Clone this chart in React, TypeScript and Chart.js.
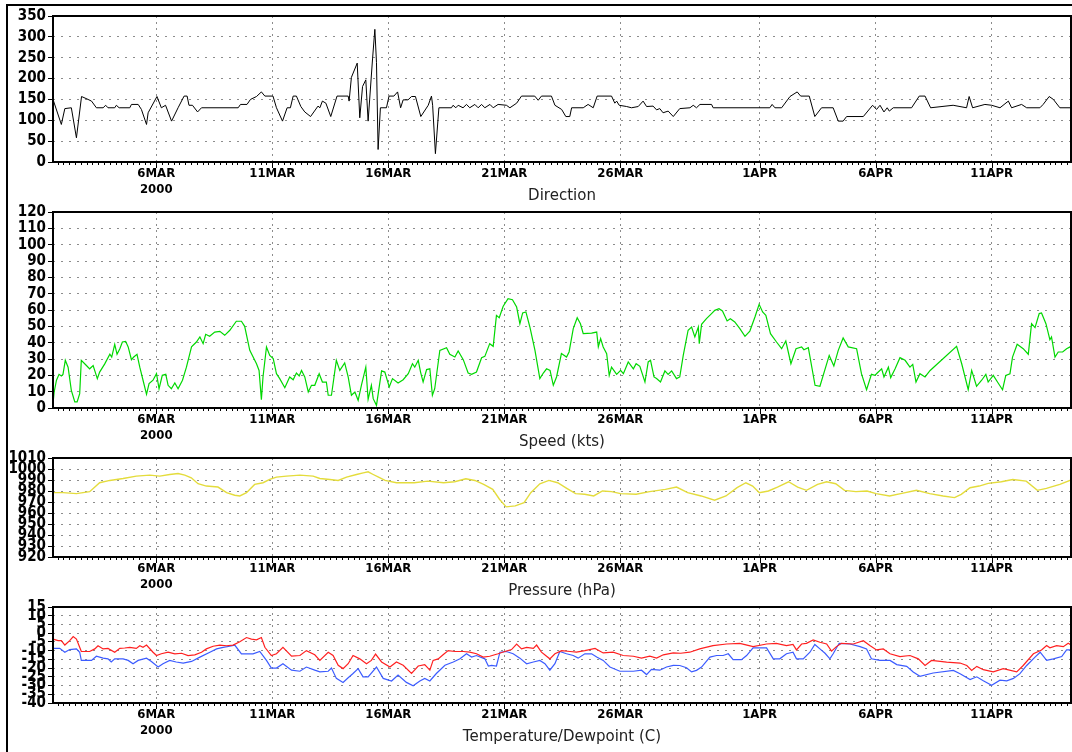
import React, { useEffect, useRef } from 'react';
import { Chart, registerables } from 'chart.js';

Chart.register(...registerables);

// ---- axis data ----
const tickDays = [5, 10, 15, 20, 25, 31, 36, 41];
const tickLabels = ['6MAR', '11MAR', '16MAR', '21MAR', '26MAR', '1APR', '6APR', '11APR'];
const yearLabel = '2000';
const dayMin = 0.55;
const dayMax = 44.42;

// ---- series: [day since 1 Mar 00Z, value] ----
const directionSeries: number[][] = [
  [0.55,150],[0.91,90],[1.06,128],[1.34,130],[1.56,58],[1.78,157],[2.06,150],[2.21,146],[2.42,130],[2.71,130],
  [2.82,136],[2.92,130],[3.21,130],[3.28,136],[3.40,130],[3.86,130],[3.93,138],[4.22,138],[4.36,126],[4.58,90],
  [4.65,118],[5.03,157],[5.22,130],[5.40,136],[5.66,98],[5.94,130],[6.20,158],[6.33,158],[6.41,136],[6.56,136],
  [6.78,120],[6.95,130],[8.53,130],[8.63,138],[8.91,138],[9.06,150],[9.32,157],[9.53,168],[9.68,158],[10.03,158],
  [10.18,130],[10.44,98],[10.64,130],[10.78,130],[10.90,158],[11.04,158],[11.23,133],[11.40,120],[11.65,109],[11.97,134],
  [12.05,130],[12.16,146],[12.31,141],[12.52,109],[12.79,158],[13.27,158],[13.31,146],[13.41,203],[13.66,237],[13.77,106],
  [13.89,181],[14.03,197],[14.13,98],[14.32,247],[14.42,318],[14.49,239],[14.56,30],[14.66,130],[14.92,130],[15.03,158],
  [15.24,158],[15.40,168],[15.53,130],[15.64,149],[15.85,149],[16.00,157],[16.17,157],[16.40,109],[16.72,136],[16.86,158],
  [16.91,136],[17.03,20],[17.18,130],[17.72,130],[17.79,136],[17.91,130],[18.01,136],[18.22,130],[18.37,138],[18.51,130],
  [18.73,138],[18.87,130],[19.02,138],[19.16,130],[19.38,138],[19.52,130],[19.73,138],[20.09,136],[20.24,130],[20.53,141],
  [20.74,158],[21.31,158],[21.46,148],[21.60,158],[22.03,158],[22.18,136],[22.47,126],[22.65,109],[22.82,109],[22.90,130],
  [23.40,130],[23.61,138],[23.83,130],[24.00,158],[24.62,158],[24.76,141],[24.84,146],[24.95,136],[25.27,133],[25.48,130],
  [25.77,133],[25.98,146],[26.13,133],[26.41,134],[26.56,125],[26.70,128],[26.84,118],[27.06,122],[27.28,109],[27.56,128],
  [28.00,130],[28.14,136],[28.28,130],[28.43,138],[28.93,138],[29.00,130],[31.44,130],[31.54,138],[31.66,130],[31.95,130],
  [32.31,157],[32.62,168],[32.77,158],[33.14,158],[33.38,109],[33.67,130],[34.17,130],[34.39,98],[34.60,98],[34.75,109],
  [35.47,109],[35.87,136],[36.04,126],[36.19,136],[36.36,120],[36.50,130],[36.59,122],[36.76,130],[37.55,130],[37.88,158],
  [38.13,158],[38.37,130],[39.34,136],[39.92,130],[40.03,157],[40.18,130],[40.71,138],[41.00,136],[41.36,130],[41.72,146],
  [41.86,130],[42.29,138],[42.51,130],[43.08,130],[43.22,138],[43.48,157],[43.66,150],[43.94,130],[44.45,130]
];

const speedSeries: number[][] = [
  [0.55,2.7],[0.60,9.8],[0.70,17],[0.81,20.6],[0.91,19.6],[0.98,20.6],[1.08,29.2],[1.20,25],[1.34,10.8],[1.49,3.7],
  [1.59,3.7],[1.70,8.8],[1.77,29.2],[1.99,26],[2.13,24],[2.28,26],[2.46,18],[2.56,22],[2.78,27],[3.00,32.9],
  [3.08,31.2],[3.21,39],[3.31,32.9],[3.43,36.3],[3.54,40.4],[3.68,40.8],[3.79,37.4],[3.93,29.6],[4.03,31.2],[4.17,32.9],
  [4.29,25],[4.43,17],[4.58,8.4],[4.69,14.9],[4.86,17],[5.01,21],[5.12,11.8],[5.26,20],[5.41,20.6],[5.51,13.9],
  [5.65,11.8],[5.80,15.3],[5.94,11.8],[6.13,17],[6.30,25],[6.52,37.4],[6.73,40.4],[6.88,43.5],[7.02,39.4],[7.13,45.1],
  [7.30,43.9],[7.52,46.5],[7.74,46.9],[7.95,44.5],[8.17,47.6],[8.45,53.1],[8.67,53.1],[8.81,50],[9.03,35.3],[9.32,27.1],
  [9.43,23],[9.53,5.1],[9.60,19],[9.75,37.4],[9.89,32.2],[10.04,30.2],[10.18,21],[10.32,18],[10.54,12.4],[10.75,19],
  [10.90,17.3],[11.04,21.4],[11.16,19.6],[11.26,23],[11.40,19],[11.55,9.8],[11.69,13.9],[11.83,13.9],[12.02,21],[12.16,15.9],
  [12.33,15.9],[12.41,7.8],[12.55,7.8],[12.76,29.2],[12.91,23],[13.12,27.6],[13.27,19],[13.41,7.8],[13.56,9.8],[13.70,4.7],
  [13.84,13.9],[14.03,25],[14.13,5.3],[14.27,13.9],[14.35,5.7],[14.49,1.6],[14.71,22.7],[14.85,22],[15.04,12.9],[15.18,18],
  [15.42,15.3],[15.64,17.3],[15.86,21],[16.04,27.1],[16.14,25],[16.29,29.2],[16.39,22],[16.50,15.9],[16.65,23.5],[16.79,24],
  [16.90,7.8],[17.00,11.8],[17.22,35.3],[17.51,36.9],[17.65,32.9],[17.87,31.2],[18.01,34.9],[18.23,29.6],[18.44,21.4],[18.59,20.6],
  [18.80,22],[19.02,30.8],[19.16,31.6],[19.37,39.4],[19.52,37.8],[19.66,56.7],[19.78,55.3],[19.95,62.3],[20.16,66.9],[20.35,66.3],
  [20.53,61.8],[20.67,51.6],[20.79,58.2],[20.93,58.8],[21.10,49.6],[21.32,35.3],[21.53,18],[21.68,21.4],[21.82,24],[21.97,23],
  [22.11,13.9],[22.25,19],[22.46,33.3],[22.68,31.2],[22.79,34.3],[22.97,48.6],[23.14,55.3],[23.28,51.6],[23.40,45.5],[23.76,45.9],
  [23.98,46.5],[24.05,37.4],[24.15,42.5],[24.26,37.4],[24.41,33.3],[24.52,20],[24.62,25],[24.84,20.6],[25.01,23],[25.13,21],
  [25.34,28.2],[25.56,24],[25.68,27.1],[25.84,25.5],[26.06,15.9],[26.20,28.2],[26.30,29.2],[26.45,19],[26.56,18],[26.73,15.9],
  [26.92,22.7],[27.06,20.6],[27.21,22.7],[27.42,18],[27.56,19],[27.71,32.2],[27.92,47.6],[28.07,49.6],[28.21,43.5],[28.36,49.6],
  [28.40,39.4],[28.50,51.2],[28.71,54.7],[28.93,57.8],[29.07,59.8],[29.25,60.8],[29.40,59.4],[29.60,53.3],[29.74,54.7],[29.93,52.7],
  [30.15,48.6],[30.37,43.9],[30.58,47.1],[30.80,55.7],[30.98,63.5],[31.13,58.8],[31.27,56.7],[31.47,45.5],[31.73,40.4],[31.95,36.3],
  [32.13,41],[32.35,27.1],[32.57,36.3],[32.81,37.4],[32.91,35.7],[33.10,36.9],[33.39,13.9],[33.60,13.3],[34.00,32.2],[34.20,25.7],
  [34.39,35.3],[34.60,42.9],[34.82,37.4],[35.18,36.3],[35.39,21],[35.61,11.2],[35.82,20.6],[35.97,20],[36.07,21.4],[36.26,24],
  [36.36,19],[36.55,25],[36.65,18.6],[36.84,24],[37.05,30.8],[37.27,29.2],[37.48,25],[37.60,26.7],[37.74,15.9],[37.91,21],
  [38.13,19],[38.35,23],[39.49,37.8],[39.71,27.1],[39.99,11.2],[40.14,23],[40.35,13.3],[40.57,17],[40.75,20.6],[40.85,15.9],
  [41.07,20],[41.28,15.3],[41.47,11.2],[41.61,20],[41.79,21],[41.90,31.2],[42.10,39],[42.36,36.3],[42.58,32.9],[42.72,51.6],
  [42.87,49.2],[43.05,57.8],[43.15,58.2],[43.34,51.6],[43.51,41.8],[43.58,43.5],[43.73,31.2],[43.87,34.3],[44.06,34.3],[44.23,36.3],
  [44.38,37.4],[44.46,37.8]
];

const pressureSeries: number[][] = [
  [0.55,978.5],[0.98,978.5],[1.56,977.6],[2.13,979.4],[2.56,987.5],[3.00,989.6],[3.57,991.4],[4.14,993.5],[4.72,994.4],[5.15,993.5],
  [5.58,995],[5.94,995.9],[6.23,994.4],[6.51,992],[6.80,986.6],[7.16,984.5],[7.66,983.6],[8.03,978.5],[8.38,976.1],[8.60,975.5],
  [8.89,978.5],[9.24,986],[9.60,987.5],[9.89,990.5],[10.18,992.6],[10.61,993.5],[11.19,994.4],[11.76,993.5],[12.05,991.4],[12.48,990.5],
  [12.84,989.6],[13.20,992.6],[13.63,995],[13.92,996.5],[14.13,997.4],[14.35,995],[14.58,992.6],[14.86,989.6],[15.35,987.5],[16.12,987.5],
  [16.70,989],[17.38,987.5],[17.86,988.4],[18.34,991.1],[18.73,989.6],[19.11,986],[19.50,981.5],[19.79,972.5],[20.08,965.6],[20.47,966.5],
  [20.85,969.5],[21.14,978.5],[21.53,986.6],[21.92,989.6],[22.30,987.5],[22.69,982.4],[23.07,977.6],[23.46,977],[23.85,975.5],[24.23,980],
  [24.62,979.4],[25.01,977.6],[25.68,977],[26.26,979.4],[26.94,981.5],[27.42,983.6],[27.90,978.5],[28.48,975.5],[29.06,971.6],[29.55,975.5],
  [30.03,983],[30.41,987.5],[30.70,984.5],[30.99,978.5],[31.38,980],[31.77,983.6],[32.25,988.4],[32.64,983.6],[33.02,980.6],[33.50,986],
  [33.89,988.4],[34.28,986.6],[34.66,980.6],[35.15,979.4],[35.63,980],[36.02,977.6],[36.60,975.5],[37.08,977.6],[37.76,980.6],[38.33,977.6],
  [38.91,975.5],[39.40,974],[39.69,977],[40.07,983],[40.46,984.5],[40.85,986.9],[41.42,988.4],[41.91,990.5],[42.49,989],[42.97,980.6],
  [43.36,982.4],[43.94,986],[44.48,990.5]
];

const temperatureSeries: number[][] = [
  [0.55,-3.4],[0.77,-4.3],[0.91,-4.3],[1.06,-6.8],[1.27,-4.3],[1.42,-1.9],[1.56,-3.4],[1.70,-8.1],[1.77,-10.5],[2.13,-10.5],
  [2.35,-9],[2.49,-7.2],[2.71,-9],[2.92,-8.7],[3.21,-10.9],[3.43,-8.7],[3.64,-8.5],[3.86,-8.1],[4.14,-8.7],[4.29,-7.2],
  [4.43,-8.1],[4.58,-6.8],[4.86,-10.9],[5.01,-12.8],[5.22,-11.8],[5.51,-10.9],[5.80,-11.8],[6.09,-11.5],[6.37,-12.8],[6.66,-12.4],
  [6.95,-10.9],[7.16,-9],[7.45,-7.5],[7.74,-6.8],[8.03,-7.2],[8.31,-6.8],[8.60,-4.9],[8.89,-2.5],[9.10,-3.4],[9.32,-3.8],
  [9.53,-2.5],[9.68,-8.1],[9.96,-12.8],[10.18,-11.8],[10.46,-8.1],[10.83,-13.2],[11.19,-12.8],[11.47,-10],[11.83,-12.4],[12.05,-15.6],
  [12.41,-10.9],[12.62,-12.8],[12.84,-18.4],[13.05,-20.3],[13.27,-17.5],[13.48,-12.8],[13.77,-14.7],[14.06,-17.5],[14.27,-15.6],[14.45,-12],
  [14.71,-16.5],[15.07,-19.4],[15.35,-16.5],[15.64,-18.4],[16.00,-23.1],[16.29,-18.8],[16.57,-18],[16.79,-21.2],[16.93,-15.6],[17.15,-14.7],
  [17.36,-12.4],[17.58,-10],[17.87,-10.5],[18.23,-10.5],[18.51,-10.9],[18.80,-11.8],[19.09,-13.7],[19.37,-13.2],[19.73,-11.8],[20.02,-10.5],
  [20.31,-9.4],[20.53,-6.2],[20.74,-9],[20.96,-8.1],[21.25,-8.7],[21.39,-6.8],[21.60,-10.9],[21.96,-14.7],[22.18,-11.8],[22.47,-10],
  [22.83,-10.5],[23.11,-10.9],[23.47,-10],[23.91,-8.7],[24.26,-11.3],[24.69,-10.9],[25.12,-12.8],[25.56,-13.2],[25.91,-14.3],[26.27,-13.2],
  [26.56,-14.3],[26.85,-12.4],[27.28,-11.3],[27.60,-11.5],[27.99,-10.9],[28.42,-9],[28.99,-7.1],[29.58,-6.2],[30.15,-5.8],[30.72,-7.7],
  [31.30,-6.2],[31.72,-5.8],[32.16,-7.1],[32.44,-6.5],[32.59,-9.6],[32.81,-6.2],[33.02,-5.8],[33.31,-3.9],[33.60,-5.2],[33.89,-6.2],
  [34.10,-10.3],[34.31,-7.7],[34.53,-5.8],[35.04,-6.2],[35.47,-4.3],[35.75,-7.1],[36.04,-9.6],[36.33,-9],[36.62,-11.8],[37.05,-13.4],
  [37.48,-12.8],[37.84,-14.7],[38.13,-18.5],[38.41,-15.6],[39.06,-16.6],[39.64,-17.1],[39.93,-18.5],[40.14,-21.3],[40.36,-19],[40.64,-20.9],
  [41.07,-22.2],[41.50,-20.3],[42.08,-22.2],[42.36,-18.5],[42.80,-11.8],[43.15,-9.6],[43.37,-7.1],[43.51,-8.4],[43.80,-7.1],[44.09,-7.7],
  [44.30,-5.8],[44.46,-7.1]
];

const dewpointSeries: number[][] = [
  [0.55,-8.7],[0.84,-8.7],[1.06,-10.9],[1.27,-9.4],[1.56,-9],[1.70,-10.9],[1.77,-15.6],[2.21,-15.6],[2.42,-13.2],[2.71,-14.3],
  [2.92,-14.7],[3.06,-16.5],[3.21,-14.7],[3.57,-14.7],[3.79,-15.6],[4.00,-17.5],[4.22,-15.6],[4.58,-14.3],[4.79,-16.2],[5.08,-19.4],
  [5.29,-17.5],[5.58,-15.6],[5.86,-16.5],[6.16,-17.1],[6.52,-16.2],[6.88,-13.7],[7.31,-10.9],[7.60,-9],[7.88,-8.1],[8.17,-7.5],
  [8.38,-6.8],[8.67,-11.8],[9.17,-11.8],[9.46,-10.5],[9.75,-15.6],[9.96,-20],[10.18,-20],[10.46,-17.5],[10.83,-21.2],[11.19,-21.8],
  [11.47,-19.4],[11.83,-21.2],[12.05,-22.2],[12.41,-21.8],[12.55,-20],[12.76,-25.9],[13.05,-28.2],[13.27,-25.5],[13.48,-23.1],[13.70,-20.3],
  [13.91,-25],[14.13,-25],[14.49,-19.4],[14.78,-25.9],[15.14,-27.4],[15.42,-24],[15.78,-28.2],[16.07,-30.1],[16.36,-27.4],[16.57,-25.9],
  [16.79,-27.4],[17.07,-23.1],[17.44,-18.4],[17.80,-16.5],[18.09,-14.7],[18.37,-11.8],[18.59,-13.7],[18.80,-12.8],[19.16,-14.7],[19.31,-18.8],
  [19.45,-18.4],[19.66,-18.8],[19.81,-10.9],[20.09,-10.5],[20.38,-11.8],[20.67,-14.3],[20.96,-17.5],[21.25,-16.5],[21.53,-15.6],[21.75,-17.5],
  [21.96,-21.2],[22.18,-17.5],[22.39,-10.5],[22.68,-11.8],[22.97,-12.8],[23.18,-14.3],[23.47,-11.8],[23.76,-11.8],[23.98,-13.7],[24.26,-15.6],
  [24.55,-19.4],[24.98,-21.8],[25.56,-21.8],[25.91,-21.2],[26.13,-23.7],[26.34,-20.7],[26.70,-21.2],[26.99,-19.4],[27.28,-18.4],[27.56,-18.5],
  [27.85,-19.8],[28.07,-22.2],[28.28,-21.3],[28.50,-19.4],[28.86,-13.7],[29.15,-12.8],[29.43,-12.8],[29.65,-11.8],[29.86,-15.2],[30.22,-15.2],
  [30.44,-12.8],[30.72,-8.4],[31.30,-8.4],[31.59,-14.7],[31.87,-14.7],[32.16,-11.8],[32.44,-10.9],[32.59,-14.7],[32.88,-14.7],[33.17,-10.9],
  [33.38,-6.5],[33.60,-9],[33.82,-11.5],[34.03,-14.7],[34.17,-11.8],[34.43,-5.8],[34.89,-6.2],[35.33,-7.7],[35.61,-9],[35.82,-14.7],
  [36.18,-15.6],[36.62,-15.6],[36.91,-18],[37.34,-19],[37.62,-22.2],[37.91,-24.7],[38.48,-22.8],[39.35,-21.3],[39.64,-23.2],[40.07,-26.6],
  [40.36,-25],[40.64,-27.3],[41.00,-29.8],[41.36,-26.9],[41.65,-27.3],[41.94,-25.9],[42.22,-23.2],[42.51,-18.5],[42.87,-13.7],[43.09,-10.9],
  [43.37,-15.6],[43.66,-14.7],[44.02,-13.4],[44.23,-9.6],[44.46,-9.6]
];

const panelTitles = ['Direction', 'Speed (kts)', 'Pressure (hPa)', 'Temperature/Dewpoint (C)'];

const LABEL_FONT = '"DejaVu Sans Condensed", "DejaVu Sans", sans-serif';

const decoPlugin = {
  id: 'panelDeco',
  afterDatasetsDraw(chart: any, _args: any, opts: any) {
    const { ctx, chartArea: a, scales } = chart;
    const x = scales.x;
    ctx.save();
    ctx.strokeStyle = '#000';
    ctx.lineWidth = 1;
    ctx.beginPath();
    for (let d = Math.ceil(dayMin * 4) / 4; d <= dayMax; d += 0.25) {
      const px = Math.round(x.getPixelForValue(d)) + 0.5;
      ctx.moveTo(px, a.bottom);
      ctx.lineTo(px, a.bottom + 3);
    }
    for (const d of tickDays) {
      const px = Math.round(x.getPixelForValue(d)) + 0.5;
      ctx.moveTo(px, a.bottom);
      ctx.lineTo(px, a.bottom + 6);
    }
    ctx.stroke();
    ctx.lineWidth = 2;
    ctx.strokeStyle = '#000';
    ctx.strokeRect(a.left, a.top, a.right - a.left, a.bottom - a.top);
    ctx.fillStyle = '#222';
    ctx.font = '15px "DejaVu Sans", sans-serif';
    ctx.textAlign = 'center';
    ctx.textBaseline = 'middle';
    ctx.fillText(opts.title, (a.left + a.right) / 2, a.bottom + 34);
    ctx.restore();
  },
};

type Line = { points: number[][]; color: string; width?: number };

function Panel(props: {
  top: number; height: number; plotTop: number; plotBottom: number;
  yMin: number; yMax: number; yStep: number; title: string; lines: Line[];
}) {
  const ref = useRef<HTMLCanvasElement>(null);
  const { top, height, plotTop, plotBottom, yMin, yMax, yStep, title, lines } = props;
  useEffect(() => {
    const chart = new Chart(ref.current as HTMLCanvasElement, {
      type: 'line',
      data: {
        datasets: lines.map((l) => ({
          data: l.points.map((p) => ({ x: p[0], y: p[1] })),
          borderColor: l.color,
          borderWidth: l.width ?? 1.2,
          pointRadius: 0,
          tension: 0,
          fill: false,
        })),
      },
      options: {
        animation: false,
        responsive: false,
        maintainAspectRatio: false,
        layout: { padding: { top: plotTop - top, right: 1, left: 0, bottom: 0 } },
        plugins: {
          legend: { display: false },
          tooltip: { enabled: false },
          panelDeco: { title },
        } as any,
        scales: {
          x: {
            type: 'linear',
            min: dayMin,
            max: dayMax,
            afterBuildTicks: (s: any) => { s.ticks = tickDays.map((v) => ({ value: v })); },
            afterFit: (s: any) => { s.height = height - (plotBottom - top); },
            ticks: {
              autoSkip: false,
              maxRotation: 0,
              padding: 4,
              color: '#000',
              font: { family: LABEL_FONT, size: 13, weight: 'bold', lineHeight: '16px' } as any,
              callback: (v: any) => {
                const i = tickDays.indexOf(Number(v));
                return i === 0 ? [tickLabels[0], yearLabel] : tickLabels[i];
              },
            },
            grid: { color: '#8c8c8c', drawTicks: false, lineWidth: 1 },
            border: { display: false, dash: [2, 4] },
          } as any,
          y: {
            type: 'linear',
            min: yMin,
            max: yMax,
            afterFit: (s: any) => { s.width = 53; },
            ticks: {
              stepSize: yStep,
              autoSkip: false,
              padding: 2,
              color: '#000',
              font: { family: LABEL_FONT, size: 15, weight: 'bold' } as any,
              callback: (v: any) => String(Math.round(Number(v))),
            },
            grid: { color: '#8c8c8c', tickColor: '#000', tickLength: 5, drawTicks: true, lineWidth: 1 },
            border: { display: false, dash: [2, 6] },
          } as any,
        },
      },
      plugins: [decoPlugin],
    });
    return () => chart.destroy();
  }, []);
  return (
    <canvas
      ref={ref}
      width={1072}
      height={height}
      style={{ position: 'absolute', left: 0, top, width: 1072, height }}
    />
  );
}

export default function App() {
  return (
    <div style={{ position: 'fixed', left: 0, top: 0, width: 1072, height: 752, background: '#fff', overflow: 'hidden' }}>
      <div style={{ position: 'absolute', left: 6, top: 4, width: 1200, height: 900, borderLeft: '2px solid #000', borderTop: '2px solid #000' }} />
      <Panel top={0} height={210} plotTop={16} plotBottom={162} yMin={0} yMax={350} yStep={50}
        title={panelTitles[0]} lines={[{ points: directionSeries, color: '#000000', width: 1 }]} />
      <Panel top={200} height={250} plotTop={212} plotBottom={408} yMin={0} yMax={120} yStep={10}
        title={panelTitles[1]} lines={[{ points: speedSeries, color: '#00d800' }]} />
      <Panel top={447} height={153} plotTop={457} plotBottom={557} yMin={920} yMax={1010} yStep={10}
        title={panelTitles[2]} lines={[{ points: pressureSeries, color: '#e4dc3c', width: 1.4 }]} />
      <Panel top={596} height={156} plotTop={606} plotBottom={703} yMin={-40} yMax={15} yStep={5}
        title={panelTitles[3]} lines={[{ points: temperatureSeries, color: '#ff2020' }, { points: dewpointSeries, color: '#3c5cff' }]} />
    </div>
  );
}
